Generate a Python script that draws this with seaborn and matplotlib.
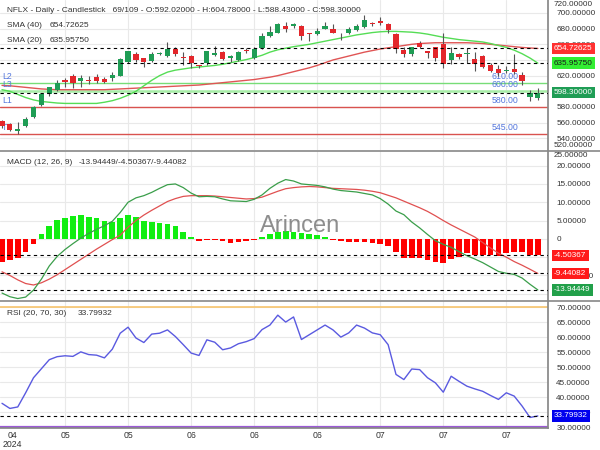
import numpy as np
import pandas as pd
import matplotlib
matplotlib.use("Agg")
import matplotlib.pyplot as plt
import seaborn as sns
from matplotlib.lines import Line2D
from matplotlib.ticker import FuncFormatter

# daily candles (69 bars)
opens = [562, 558, 549, 556, 567, 582, 597, 602, 615, 619, 613, 615, 618, 616, 617, 620, 637,
         648, 642, 639, 648, 645, 654, 644, 645, 633, 636, 646, 650, 642, 640, 653, 642, 655,
         670, 675, 684, 683, 684, 674, 673, 680, 679, 674.5, 674, 678, 682, 687, 690, 686,
         673, 653, 648, 662, 651, 656, 661, 640, 647, 648, 641, 645, 634, 629, 626.5, 629,
         621, 592.5, 592.02]
highs = [563, 560, 561, 567, 581, 598, 606, 614, 617, 622, 621, 620, 622, 618, 625, 642, 652,
         650, 643, 650, 650, 663, 656, 650, 646, 634, 652, 658, 652, 646, 652, 655, 656, 675,
         684, 687, 689, 687, 685, 675, 681, 688, 686, 675, 682, 686, 697, 689, 695, 687,
         674, 656, 656, 664, 652, 657, 675, 656, 649, 655, 650, 646, 636, 634, 632, 647,
         624, 602, 604.78]
lows = [553, 549, 546, 555, 566, 581, 594, 601, 605, 604, 605, 609, 610, 610, 613, 619, 636,
        638, 631, 637, 646, 644, 645, 634, 630, 630, 633, 645, 640, 637, 639, 649, 641, 654,
        669, 674, 676, 681, 666, 664, 672, 679, 674, 665, 673, 677, 681, 683, 685, 674,
        649, 644, 645, 655, 642, 639, 630, 635, 641, 636, 626, 630, 624, 620, 623, 622.5,
        608.5, 588, 588.43]
closes = [556, 551, 552, 565, 580, 597, 605, 610, 612, 611, 617, 613, 613, 612, 621, 641, 651,
          640, 637, 647, 649, 654, 648, 642.5, 636, 632, 651, 649, 641, 645, 650, 651, 654, 670,
          676, 686, 680, 686, 670, 673, 677, 684, 675, 674, 680, 683, 691, 686, 687, 678,
          654, 648, 656, 657, 648.5, 643, 634.5, 648.5, 643.5, 648, 635, 631, 626, 623, 627.5,
          625, 613.5, 597.5, 598.3]
sma20 = [602, 600, 596, 592, 589, 587, 586, 585, 584.5, 584.5, 584.5, 584.5, 584.5, 586, 588,
         591, 595, 600, 607, 614, 620, 624.5, 627, 628.5, 630, 631, 632, 633, 634.5, 636.5,
         638.5, 640.5, 643, 646, 650, 653, 655, 657, 658.5, 660, 662, 664, 666, 668, 670, 672,
         673.5, 675, 676, 676.5, 676.5, 676, 675.5, 674.5, 673, 671, 669, 667.5, 666, 665,
         664, 663, 661, 658.5, 656, 652.5, 648, 642.5, 635.9575]
sma40 = [607.5, 607, 606, 605, 604, 603, 602.5, 602, 602, 602, 602, 602, 602, 602, 602.5, 603,
         603.5, 604, 604.5, 605, 605.5, 606, 606.5, 607, 607.5, 608, 609, 610, 611, 612, 613,
         614, 615, 616.5, 618, 620, 622.5, 625, 627.5, 630, 633, 636.5, 640, 642.5, 645, 647.5,
         650, 652, 654, 655.5, 657, 658.5, 660, 661, 661.5, 662, 662, 662, 662, 662, 661.5,
         661, 660, 659, 658, 657, 656, 655.3, 654.72625]
macd_line = [-14.8, -15.8, -16.3, -15.9, -14.0, -11.0, -7.4, -4.8, -2.9, -1.3, 0.2, 1.5, 2.6,
             3.6, 4.8, 7.2, 10.0, 11.2, 11.8, 12.7, 13.8, 14.8, 15.0, 14.0, 12.5, 11.5, 11.6,
             11.5, 10.9, 10.4, 10.3, 10.2, 10.8, 12.0, 13.8, 15.2, 16.2, 15.8, 15.0, 14.8, 14.6,
             14.2, 13.6, 13.2, 13.0, 12.8, 12.4, 12.0, 11.0, 9.5, 7.6, 6.6, 4.6, 3.0, 1.2, -0.5,
             -1.5, -2.3, -3.5, -4.6, -5.5, -6.5, -7.7, -8.9, -9.4, -9.7, -10.7, -12.4, -13.94449]
macd_signal = [-9.0, -10.0, -11.2, -12.2, -12.6, -12.0, -11.0, -9.8, -8.4, -7.0, -5.6, -4.2,
               -2.8, -1.5, -0.2, 1.0, 3.2, 5.0, 6.5, 7.8, 9.0, 10.2, 11.0, 11.6, 11.8, 11.8,
               11.8, 11.7, 11.5, 11.3, 11.1, 10.9, 11.0, 11.4, 12.2, 13.0, 13.7, 14.0, 14.2,
               14.3, 14.2, 14.0, 13.8, 13.7, 13.6, 13.5, 13.3, 13.0, 12.6, 11.9, 11.2, 10.3, 9.4,
               8.5, 7.5, 6.3, 5.0, 3.8, 2.7, 1.6, 0.5, -1.0, -2.5, -3.9, -5.0, -6.2, -7.2, -8.3,
               -9.44082]
macd_hist = [-6.2, -5.8, -5.2, -3.7, -1.3, 1.2, 3.4, 5.2, 5.8, 6.3, 6.4, 6.1, 5.7, 4.9, 4.7, 5.7,
             6.5, 5.9, 4.9, 4.6, 4.3, 4.1, 3.4, 2.0, 0.6, -0.5, -0.3, -0.3, -0.7, -1.2, -0.9, -0.7,
             -0.3, 0.5, 1.2, 1.8, 2.2, 2.0, 1.5, 1.3, 1.0, 0.6, -0.3, -0.6, -0.8, -0.9, -0.9, -1.0,
             -1.3, -2.0, -3.6, -5.3, -5.3, -5.3, -5.7, -6.2, -6.6, -5.5, -5.0, -3.9, -4.4, -4.4,
             -4.4, -4.6, -3.9, -3.5, -3.6, -4.4, -4.50367]
rsi = [38.0, 36.3, 36.8, 41.5, 46.5, 49.5, 52.5, 53.5, 53.8, 53.6, 55.1, 54.2, 54.0, 53.1, 56.0,
       61.3, 63.3, 59.7, 58.2, 61.0, 61.3, 62.4, 60.2, 57.5, 54.7, 53.9, 59.1, 58.3, 55.8, 56.4,
       57.8, 58.5, 59.5, 62.5, 64.0, 67.3, 65.0, 66.7, 59.2, 60.8, 62.4, 64.0, 62.4, 60.0, 61.4,
       64.0, 63.0, 61.4, 60.8, 57.5, 47.6, 45.9, 49.4, 49.2, 46.5, 44.8, 41.7, 47.0, 45.3, 43.7,
       42.8, 42.0, 40.6, 39.3, 41.5, 40.4, 37.1, 33.3, 33.79932]

month_ticks = [8, 16, 24, 32, 40, 48, 56, 64]
month_labels = ["05", "05", "06", "06", "06", "07", "07", "07"]
levels = [610, 600, 580, 545]
level_names = ["L2", "L3", "L1", "T1"]
level_colors = ["#77dd77", "#a6eca6", "#d9534f", "#d9534f"]

df = pd.DataFrame({"idx": np.arange(len(closes)), "open": opens, "high": highs, "low": lows,
                   "close": closes, "sma20": sma20, "sma40": sma40, "macd": macd_line,
                   "signal": macd_signal, "hist": macd_hist, "rsi": rsi})

sns.set_theme(style="white")
plt.rcParams['font.family'] = ['Liberation Sans', 'DejaVu Sans']

GREEN = "#1f9d55"
RED = "#e3262b"
TXT = "#333333"
LBLUE = "#5577dd"
FS = 6.0      # panel captions
TFS = 5.9     # axis tick labels

fig = plt.figure(figsize=(6, 4.5), dpi=100)
W, H = 600, 450


def px_axes(top, bottom, right=548):
    return fig.add_axes([0, 1 - bottom / H, right / W, (bottom - top) / H])


ax1 = px_axes(0, 150)
ax2 = px_axes(151, 300)
ax3 = px_axes(301, 428)

fmt = FuncFormatter(lambda v, _: "0" if abs(v) < 1e-9 else f"{v:.5f}")
for ax in (ax1, ax2, ax3):
    ax.set_xlim(-0.254, 69.29)
    ax.yaxis.tick_right()
    ax.yaxis.set_major_formatter(fmt)
    ax.tick_params(axis="y", length=0, pad=6, labelsize=TFS, labelcolor=TXT)
    ax.tick_params(axis="x", length=0, pad=2, labelsize=6.3, labelcolor=TXT)
    ax.set_xticks(month_ticks)
    ax.grid(True, color="#e9e9e9", lw=0.8)
    ax.set_axisbelow(True)
    for s in ("left", "top", "bottom"):
        ax.spines[s].set_visible(False)
    ax.spines["right"].set_color("#888888")

# ---- price panel
ax1.set_ylim(525, 716.6)
ax1.set_yticks(np.arange(540, 701, 20))
ax1.set_xticklabels([])

for lv, nm, col in zip(levels, level_names, level_colors):
    ax1.axhline(lv, color=col, lw=1.8 if lv == 600 else 1.0, zorder=1)
    ax1.annotate(nm, xy=(0.004, lv), xycoords=ax1.get_yaxis_transform(), xytext=(0, 1.5),
                 textcoords="offset points", ha="left", va="bottom", fontsize=6.3, color=LBLUE)
    ax1.annotate(f"{lv:.2f}", xy=(0.921, lv), xycoords=ax1.get_yaxis_transform(),
                 xytext=(0, 1.5), textcoords="offset points", ha="center", va="bottom",
                 fontsize=6.3, color=LBLUE)

sns.lineplot(data=df, x="idx", y="sma40", ax=ax1, color="#e05555", lw=1.0, zorder=2)
sns.lineplot(data=df, x="idx", y="sma20", ax=ax1, color="#55dd55", lw=1.0, zorder=2)

up = df["close"] >= df["open"]
ax1.vlines(df["idx"], df["low"], df["high"], color="#555555", lw=0.8, zorder=3)
body = (df["close"] - df["open"]).abs().clip(lower=0.9)
ax1.bar(df["idx"], body, bottom=df[["open", "close"]].min(axis=1), width=0.66,
        color=np.where(up, GREEN, RED), linewidth=0, zorder=4)

for v in (654.72625, 635.9575, 598.3):
    ax1.axhline(v, color="black", lw=0.8, ls=(0, (3, 3)), zorder=5)


def value_box(ax, v, text, fc, tc="white"):
    ax.text(1.011, v, text, transform=ax.get_yaxis_transform(), ha="left", va="center",
            fontsize=TFS, color=tc, clip_on=False, zorder=10,
            bbox=dict(boxstyle="square,pad=0.28", fc=fc, ec="none"))


value_box(ax1, 654.72625, "654.72625", "#ff3030")
value_box(ax1, 635.9575, "635.95750", "#33ee33", "#1a1a1a")
value_box(ax1, 598.3, "598.30000", GREEN)
ax1.text(1.011, 0.967, "720.00000", transform=ax1.transAxes, ha="left", va="center",
         fontsize=TFS, color=TXT, clip_on=False)
ax1.text(1.011, 0.027, "520.00000", transform=ax1.transAxes, ha="left", va="center",
         fontsize=TFS, color=TXT, clip_on=False)

ax1.text(0.0128, 0.933, "NFLX - Daily - Candlestick   69/109 - O:592.02000 - H:604.78000 - "
         "L:588.43000 - C:598.30000", transform=ax1.transAxes, fontsize=FS, color=TXT,
         va="center", zorder=11)
ax1.text(0.0128, 0.833, "SMA (40)", transform=ax1.transAxes, fontsize=FS, color=TXT, va="center")
ax1.text(0.091, 0.833, "654.72625", transform=ax1.transAxes, fontsize=FS, color=TXT, va="center")
ax1.text(0.0128, 0.733, "SMA (20)", transform=ax1.transAxes, fontsize=FS, color=TXT, va="center")
ax1.text(0.091, 0.733, "635.95750", transform=ax1.transAxes, fontsize=FS, color=TXT, va="center")

# ---- MACD panel
ax2.set_ylim(-16.7, 24.0)
ax2.set_yticks(np.arange(-15, 21, 5))
ax2.set_xticklabels([])
ax2.bar(df["idx"], df["hist"], width=0.72, color=np.where(df["hist"] >= 0, "#11ee11", "#ff0000"),
        linewidth=0, zorder=2)
sns.lineplot(data=df, x="idx", y="signal", ax=ax2, color="#e05050", lw=0.9, zorder=3)
sns.lineplot(data=df, x="idx", y="macd", ax=ax2, color="#3a9e4a", lw=0.9, zorder=3)
for v in (-4.50367, -9.44082, -13.94449):
    ax2.axhline(v, color="black", lw=0.8, ls=(0, (3, 3)), zorder=4)
value_box(ax2, -4.50367, "-4.50367", "#ff1a1a")
value_box(ax2, -9.44082, "-9.44082", "#ff1a1a")
value_box(ax2, -13.94449, "-13.94449", "#22a04a")
ax2.text(1.011, 0.973, "25.00000", transform=ax2.transAxes, ha="left", va="center",
         fontsize=TFS, color=TXT, clip_on=False)
ax2.text(0.0128, 0.926, "MACD (12, 26, 9)", transform=ax2.transAxes, fontsize=FS, color=TXT,
         va="center")
ax2.text(0.144, 0.926, "-13.94449/-4.50367/-9.44082", transform=ax2.transAxes, fontsize=FS,
         color=TXT, va="center")
ax2.text(0.547, 0.50, "Arincen", transform=ax2.transAxes, fontsize=17, color="#7a7a7a",
         ha="center", va="center", alpha=0.85, zorder=6)

# ---- RSI panel
ax3.set_ylim(29.8, 72.0)
ax3.set_yticks(np.arange(30, 71, 5))
ax3.axhline(70, color="#f7c46c", lw=1.2, zorder=1)
ax3.axhline(30, color="#9b59d6", lw=1.6, zorder=1)
sns.lineplot(data=df, x="idx", y="rsi", ax=ax3, color="#5a5ae0", lw=1.0, zorder=3)
ax3.axhline(33.79932, color="black", lw=0.8, ls=(0, (3, 3)), zorder=4)
value_box(ax3, 33.79932, "33.79932", "#0000ee")
ax3.text(0.0128, 0.905, "RSI (20, 70, 30)", transform=ax3.transAxes, fontsize=FS, color=TXT,
         va="center")
ax3.text(0.141, 0.905, "33.79932", transform=ax3.transAxes, fontsize=FS, color=TXT, va="center")
ax3.set_xticks(month_ticks)
ax3.set_xticklabels(month_labels)
ax3.spines["bottom"].set_visible(True)
ax3.spines["bottom"].set_color("#888888")
ax3.text(1.3, -0.02, "04\n2024", transform=ax3.get_xaxis_transform(), ha="center", va="top",
         fontsize=6.3, color=TXT, linespacing=1.05)

# seaborn puts column names on the axes, the chart has none
for ax in (ax1, ax2, ax3):
    ax.set_xlabel("")
    ax.set_ylabel("")

# panel separators across the full width
for ypx in (150.5, 300.5):
    fig.add_artist(Line2D([0, 1], [1 - ypx / H] * 2, color="#888888", lw=1.2))

fig.savefig("out.png", dpi=100)
